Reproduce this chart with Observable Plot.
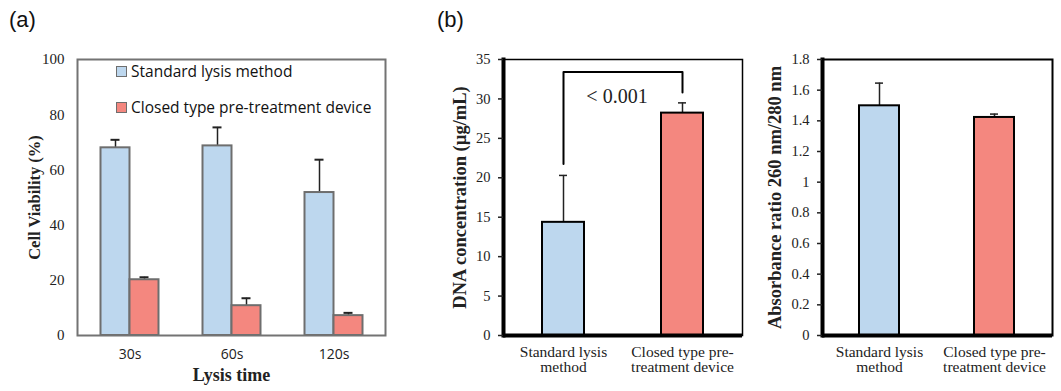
<!DOCTYPE html>
<html>
<head>
<meta charset="utf-8">
<script src="https://cdn.jsdelivr.net/npm/d3@7"></script>
<script src="https://cdn.jsdelivr.net/npm/@observablehq/plot@0.6"></script>
<style>
  html, body { margin: 0; padding: 0; background: #fff; }
  #root { position: relative; width: 1061px; height: 391px; overflow: hidden; }
  .panel { position: absolute; top: 0; }
  .tag { position: absolute; font-family: "Liberation Sans", Arial, sans-serif; font-size: 22px; color: #111; }
  .leg { position: absolute; font-family: "Open Sans", "Liberation Sans", sans-serif; font-size: 15.5px; color: #111; display: flex; align-items: center; white-space: nowrap; }
  .sw { width: 9px; height: 9px; border: 1.5px solid #6e6e6e; margin-right: 4px; }
</style>
</head>
<body>
<div id="root"></div>
<script>
// ---------- data ----------
const lysisTimes = ["30s", "60s", "120s"];
const standardViability = [68.0, 68.7, 51.8];
const standardViabilityErr = [2.9, 6.7, 11.9];
const deviceViability = [20.2, 10.8, 7.2];
const deviceViabilityErr = [0.9, 2.7, 1.0];
const viabilityTicks = [0, 20, 40, 60, 80, 100];

const methods = ["Standard lysis\nmethod", "Closed type pre-\ntreatment device"];
const dnaConcentration = [14.35, 28.2];
const dnaConcentrationErr = [5.95, 1.3];
const dnaTicks = [0, 5, 10, 15, 20, 25, 30, 35];
const pValueLabel = "< 0.001";
const bracketTop = 33.4;
const bracketLegs = [21.75, 30.8];

const absorbanceRatio = [1.498, 1.422];
const absorbanceRatioErr = [0.148, 0.022];
const ratioTicks = [0, 0.2, 0.4, 0.6, 0.8, 1, 1.2, 1.4, 1.6, 1.8];

const seriesNames = ["Standard lysis method", "Closed type pre-treatment device"];
const BLUE = "#BDD7EE";
const RED = "#F4877F";

// ---------- helpers ----------
const root = document.getElementById("root");
function place(node, left) {
  const d = document.createElement("div");
  d.className = "panel";
  d.style.left = left + "px";
  d.appendChild(node);
  root.appendChild(d);
}
const serif = "Liberation Serif, Times New Roman, serif";

// ---------- panel (a) ----------
const stdRows = lysisTimes.map((t, i) => ({time: t, value: standardViability[i], err: standardViabilityErr[i]}));
const devRows = lysisTimes.map((t, i) => ({time: t, value: deviceViability[i], err: deviceViabilityErr[i]}));
const half = 14.5;
const barStroke = "#6e6e6e";

const plotA = Plot.plot({
  width: 400, height: 391,
  marginLeft: 77, marginRight: 15, marginTop: 59, marginBottom: 56,
  style: {fontFamily: serif, fontSize: "14px", color: "#222", overflow: "visible"},
  x: {domain: lysisTimes, paddingInner: 0.718, paddingOuter: 0.359},
  y: {domain: [0, 100]},
  marks: [
    Plot.ruleX(stdRows, {x: "time", y1: "value", y2: d => d.value + d.err, dx: -half, strokeWidth: 1.5}),
    Plot.tickY(stdRows, {x: "time", y: d => d.value + d.err, dx: -half, insetLeft: 10, insetRight: 10, strokeWidth: 2}),
    Plot.ruleX(devRows, {x: "time", y1: "value", y2: d => d.value + d.err, dx: half, strokeWidth: 1.5}),
    Plot.tickY(devRows, {x: "time", y: d => d.value + d.err, dx: half, insetLeft: 10, insetRight: 10, strokeWidth: 2}),
    Plot.barY(stdRows, {x: "time", y: "value", dx: -half, fill: BLUE, stroke: barStroke, strokeWidth: 2}),
    Plot.barY(devRows, {x: "time", y: "value", dx: half, fill: RED, stroke: barStroke, strokeWidth: 2}),
    Plot.frame({stroke: "#737373", strokeWidth: 2}),
    Plot.axisY({ticks: viabilityTicks, tickSize: 0, tickPadding: 13, label: null, fontSize: 15}),
    Plot.axisX({tickSize: 0, tickPadding: 14, label: null, fontFamily: "Open Sans, sans-serif", fontSize: 14}),
    Plot.text(["Cell Viability (%)"], {text: d => d, frameAnchor: "left", textAnchor: "middle", rotate: -90, dx: -43, fontWeight: "bold", fontSize: 16.5}),
    Plot.text(["Lysis time"], {text: d => d, frameAnchor: "bottom", dy: 45, fontWeight: "bold", fontSize: 18})
  ]
});
place(plotA, 0);

// legend (a)
[[seriesNames[0], BLUE, 71], [seriesNames[1], RED, 107]].forEach(([name, col, cy]) => {
  const l = document.createElement("div");
  l.className = "leg";
  l.style.left = "116px";
  l.style.top = (cy - 10) + "px";
  l.style.height = "20px";
  l.innerHTML = `<span class="sw" style="background:${col}"></span><span>${name}</span>`;
  root.appendChild(l);
});

// ---------- panel (b) left ----------
const dnaRows = methods.map((m, i) => ({method: m, value: dnaConcentration[i], err: dnaConcentrationErr[i], color: [BLUE, RED][i]}));
const bracket = [
  {method: methods[0], y: bracketLegs[0]},
  {method: methods[0], y: bracketTop},
  {method: methods[1], y: bracketTop},
  {method: methods[1], y: bracketLegs[1]}
];

const plotB1 = Plot.plot({
  width: 345, height: 391,
  marginLeft: 103, marginRight: 3, marginTop: 59, marginBottom: 56,
  style: {fontFamily: serif, fontSize: "14px", color: "#222", overflow: "visible"},
  x: {domain: methods, paddingInner: 0.65, paddingOuter: 0.325},
  y: {domain: [0, 35]},
  marks: [
    Plot.ruleX(dnaRows, {x: "method", y1: "value", y2: d => d.value + d.err, strokeWidth: 1.5}),
    Plot.tickY(dnaRows, {x: "method", y: d => d.value + d.err, insetLeft: 17, insetRight: 17, strokeWidth: 1.5}),
    Plot.barY(dnaRows, {x: "method", y: "value", fill: "color", stroke: "black", strokeWidth: 2}),
    Plot.line(bracket, {x: "method", y: "y", stroke: "black", strokeWidth: 2}),
    Plot.text([{label: pValueLabel, y: 30.3}], {text: "label", y: "y", dx: -6, fontSize: 20}),
    Plot.frame({stroke: "black", strokeWidth: 1.5}),
    Plot.frame({anchor: "left", stroke: "black", strokeWidth: 4}),
    Plot.ruleY([0], {stroke: "black", strokeWidth: 4}),
    Plot.axisY({ticks: dnaTicks, tickSize: 5, tickPadding: 8, strokeWidth: 1.5, label: null, fontSize: 14.5}),
    Plot.axisX({tickSize: 0, tickPadding: 10, label: null, fontSize: 15.5, lineHeight: 1.0}),
    Plot.text(["DNA concentration (\u00b5g/mL)"], {text: d => d, frameAnchor: "left", textAnchor: "middle", rotate: -90, dx: -43, fontWeight: "bold", fontSize: 18.5})
  ]
});
place(plotB1, 400);

// ---------- panel (b) right ----------
const ratioRows = methods.map((m, i) => ({method: m, value: absorbanceRatio[i], err: absorbanceRatioErr[i], color: [BLUE, RED][i]}));

const plotB2 = Plot.plot({
  width: 316, height: 391,
  marginLeft: 77, marginRight: 9, marginTop: 59, marginBottom: 56,
  style: {fontFamily: serif, fontSize: "14px", color: "#222", overflow: "visible"},
  x: {domain: methods, paddingInner: 0.65, paddingOuter: 0.325},
  y: {domain: [0, 1.8]},
  marks: [
    Plot.ruleX(ratioRows, {x: "method", y1: "value", y2: d => d.value + d.err, strokeWidth: 1.5}),
    Plot.tickY(ratioRows, {x: "method", y: d => d.value + d.err, insetLeft: 16, insetRight: 16, strokeWidth: 1.5}),
    Plot.barY(ratioRows, {x: "method", y: "value", fill: "color", stroke: "black", strokeWidth: 2}),
    Plot.frame({stroke: "black", strokeWidth: 2}),
    Plot.frame({anchor: "left", stroke: "black", strokeWidth: 4}),
    Plot.ruleY([0], {stroke: "black", strokeWidth: 4}),
    Plot.axisY({ticks: ratioTicks, tickFormat: d => String(d), tickSize: 5, tickPadding: 8, strokeWidth: 1.5, label: null, fontSize: 14.5}),
    Plot.axisX({tickSize: 0, tickPadding: 10, label: null, fontSize: 15.5, lineHeight: 1.0}),
    Plot.text(["Absorbance ratio 260 nm/280 nm"], {text: d => d, frameAnchor: "left", textAnchor: "middle", rotate: -90, dx: -47, fontWeight: "bold", fontSize: 18.5})
  ]
});
place(plotB2, 745);

// panel tags
[["(a)", 9], ["(b)", 437]].forEach(([t, x]) => {
  const d = document.createElement("div");
  d.className = "tag";
  d.style.left = x + "px";
  d.style.top = "7px";
  d.textContent = t;
  root.appendChild(d);
});
</script>
</body>
</html>
